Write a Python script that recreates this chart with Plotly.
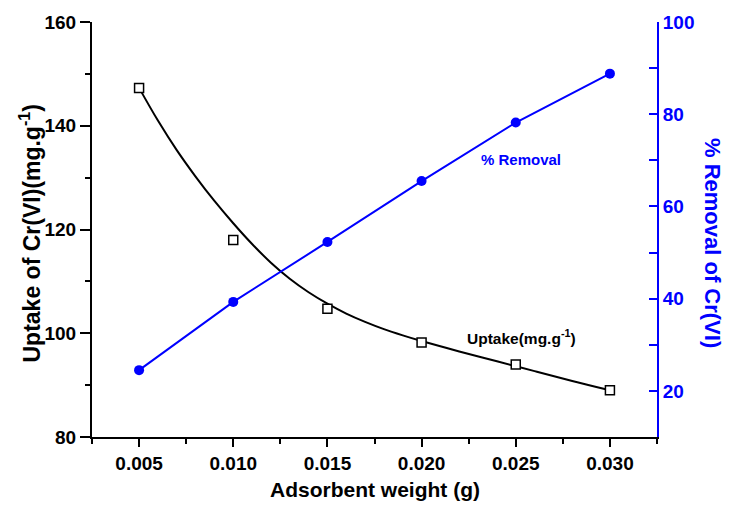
import plotly.graph_objects as go

# Adsorbent dose (g)
weight = [0.005, 0.010, 0.015, 0.020, 0.025, 0.030]
# Cr(VI) uptake, mg/g (left axis)
uptake = [147.3, 118.0, 104.7, 98.2, 94.0, 89.0]
# Cr(VI) removal, % (right axis)
removal = [24.5, 39.3, 52.3, 65.5, 78.2, 88.8]

# Smooth fitted uptake curve
fit_weight = [0.005, 0.006, 0.007, 0.008, 0.009, 0.010, 0.011, 0.012, 0.013,
              0.014, 0.015, 0.016, 0.017, 0.018, 0.019, 0.020, 0.022, 0.024,
              0.026, 0.028, 0.030]
fit_uptake = [147.3, 141.0, 135.3, 130.2, 125.5, 121.2, 117.2, 113.6, 110.5,
              107.9, 105.7, 103.8, 102.2, 100.8, 99.6, 98.5, 96.5, 94.6,
              92.7, 90.8, 89.0]

BLUE = "#0000FF"
FONT = "Liberation Sans, Arial"
XR = [0.0025, 0.0325]
YR = [80, 160]
Y2R = [10, 100]

fig = go.Figure()

fig.add_trace(go.Scatter(
    x=fit_weight, y=fit_uptake, mode="lines", line_shape="spline",
    line=dict(color="black", width=2), showlegend=False, hoverinfo="skip"))
fig.add_trace(go.Scatter(
    x=weight, y=uptake, mode="markers",
    marker=dict(symbol="square", size=9, color="white",
                line=dict(width=1.5, color="black")),
    showlegend=False))
fig.add_trace(go.Scatter(
    x=weight, y=removal, mode="lines+markers", yaxis="y2",
    line=dict(color=BLUE, width=2),
    marker=dict(symbol="circle", size=10, color=BLUE),
    showlegend=False))

tickfont = dict(family=FONT, size=19, color="black", weight="bold")

fig.update_layout(
    width=740, height=508,
    margin=dict(l=92, r=83, t=20, b=71),
    paper_bgcolor="white", plot_bgcolor="white",
    xaxis=dict(
        range=XR, tickmode="linear", tick0=0.005, dtick=0.005,
        tickformat=".3f", ticks="outside", ticklen=8, tickwidth=2,
        tickcolor="black", showline=True, linecolor="black", linewidth=2,
        showgrid=False, zeroline=False, tickfont=tickfont,
        minor=dict(tick0=0.0025, dtick=0.0025, ticks="outside", ticklen=5,
                   tickwidth=2, tickcolor="black"),
    ),
    xaxis2=dict(
        range=XR, overlaying="x", side="top", anchor="y",
        tickmode="linear", tick0=0.005, dtick=0.005, ticks="inside",
        ticklen=8, tickwidth=2, tickcolor="black", showticklabels=False,
        showline=True, linecolor="black", linewidth=2, showgrid=False,
        zeroline=False,
    ),
    yaxis=dict(
        range=YR, tickmode="linear", tick0=80, dtick=20, ticks="outside",
        ticklen=10, tickwidth=2, tickcolor="black", showline=True,
        linecolor="black", linewidth=2, showgrid=False, zeroline=False,
        tickfont=tickfont,
        minor=dict(tick0=80, dtick=10, ticks="outside", ticklen=5,
                   tickwidth=2, tickcolor="black"),
    ),
    yaxis3=dict(
        range=YR, overlaying="y", side="right", anchor="x",
        tickmode="linear", tick0=80, dtick=10, ticks="outside", ticklen=3,
        tickwidth=2, tickcolor="black", showticklabels=False,
        showline=False, showgrid=False, zeroline=False,
    ),
    yaxis2=dict(
        range=Y2R, overlaying="y", side="right", anchor="x",
        tickmode="linear", tick0=20, dtick=20, ticks="inside", ticklen=8,
        tickwidth=2, tickcolor=BLUE, showline=True, linecolor=BLUE,
        linewidth=2, showgrid=False, zeroline=False,
        tickfont=dict(family=FONT, size=19, color=BLUE, weight="bold"),
        minor=dict(tick0=10, dtick=10, ticks="inside", ticklen=8,
                   tickwidth=2, tickcolor=BLUE),
    ),
    annotations=[
        dict(text="Uptake of Cr(VI)(mg.g<sup>-1</sup>)", textangle=-90,
             xref="paper", yref="paper", x=-0.11, y=0.49,
             xanchor="center", yanchor="middle", showarrow=False,
             font=dict(family=FONT, size=23, color="black", weight="bold")),
        dict(text="% Removal of Cr(VI)", textangle=90,
             xref="paper", yref="paper", x=1.097, y=0.468,
             xanchor="center", yanchor="middle", showarrow=False,
             font=dict(family=FONT, size=22, color=BLUE, weight="bold")),
        dict(text="Adsorbent weight (g)",
             xref="paper", yref="paper", x=0.5, y=-0.127,
             xanchor="center", yanchor="middle", showarrow=False,
             font=dict(family=FONT, size=21, color="black", weight="bold")),
        dict(text="% Removal", xref="x", yref="y", x=0.02528, y=133.5,
             xanchor="center", yanchor="middle", showarrow=False,
             font=dict(family=FONT, size=15, color=BLUE, weight="bold")),
        dict(text="Uptake(mg.g<sup>-1</sup>)", xref="x", yref="y",
             x=0.02528, y=99.2, xanchor="center", yanchor="middle",
             showarrow=False,
             font=dict(family=FONT, size=15.5, color="black", weight="bold")),
    ],
)

fig.write_html("out.html")
